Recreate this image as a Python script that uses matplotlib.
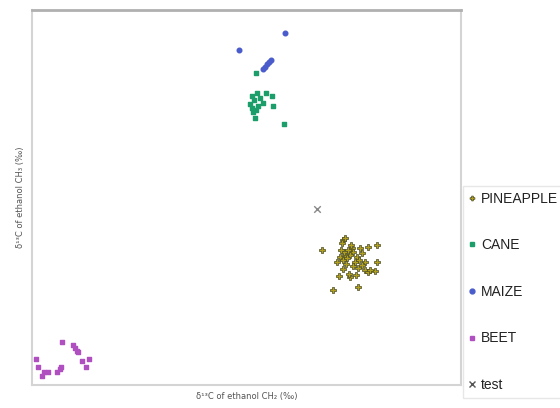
import matplotlib.pyplot as plt
from matplotlib.lines import Line2D

# positions (arbitrary delta units, no ticks shown)
pine_x = [322, 343, 342, 345, 352, 353, 368, 377, 340, 343, 350, 357, 362, 365, 377,
          343, 358, 365, 368, 375, 339, 350, 349, 356, 333, 358, 345, 348, 355, 362,
          347, 344, 351, 359, 346, 353, 341, 360, 370, 337]
pine_y = [250, 240, 243, 238, 248, 252, 247, 245, 257, 260, 255, 257, 253, 262, 262,
          269, 268, 270, 272, 271, 276, 277, 274, 275, 290, 287, 255, 250, 262, 265,
          258, 252, 245, 260, 264, 266, 250, 248, 270, 262]
cane_x = [256, 257, 252, 266, 272, 263, 273, 252, 253, 256, 258, 255, 284, 250, 254, 260]
cane_y = [73, 93, 96, 93, 96, 103, 106, 108, 112, 110, 106, 118, 124, 104, 100, 98]
maize_x = [239, 285, 265, 267, 269, 271, 263]
maize_y = [50, 33, 67, 64, 62, 60, 69]
beet_x = [62, 73, 75, 77, 78, 36, 38, 42, 48, 57, 60, 61, 82, 89, 86, 44]
beet_y = [342, 345, 348, 351, 352, 359, 367, 376, 372, 372, 369, 367, 361, 359, 367, 372]
test_x = [317]
test_y = [209]

plt.rcParams['font.family'] = ['Liberation Sans', 'DejaVu Sans']

fig = plt.figure(figsize=(5.6, 4.08), dpi=100)
ax = fig.add_axes([32 / 560, 23 / 408, 429 / 560, 375 / 408])

ax.scatter(pine_x, pine_y, marker='P', s=13, facecolor='#b0a01c', edgecolor='#4a4a26',
           linewidths=0.5, zorder=3)
ax.scatter(cane_x, cane_y, marker='s', s=11, color='#1b9e6a', zorder=3)
ax.scatter(maize_x, maize_y, marker='o', s=11, color='#4a5ccc', zorder=3)
ax.scatter(beet_x, beet_y, marker='s', s=9, color='#b04fc0', zorder=3)
ax.scatter(test_x, test_y, marker='x', s=22, color='#888888', linewidths=1, zorder=3)

ax.set_xlim(32, 461)
ax.set_ylim(385, 10)  # image style: values read top-down
ax.set_xticks([])
ax.set_yticks([])
for side in ['left', 'right', 'bottom']:
    ax.spines[side].set_color('#d4d4d4')
    ax.spines[side].set_linewidth(1.5)
ax.spines['top'].set_color('#b0b0b0')
ax.spines['top'].set_linewidth(2)

ax.set_xlabel('δ¹³C of ethanol CH₂ (‰)', fontsize=6, color='#555555', labelpad=5,
              family=['DejaVu Sans'])
ax.set_ylabel('δ¹³C of ethanol CH₃ (‰)', fontsize=6, color='#555555', labelpad=5,
              family=['DejaVu Sans'])

handles = [
    Line2D([], [], ls='', marker='P', ms=3.5, mfc='#b0a01c', mec='#4a4a26', mew=0.5),
    Line2D([], [], ls='', marker='s', ms=3.5, color='#1b9e6a'),
    Line2D([], [], ls='', marker='o', ms=3.5, color='#4a5ccc'),
    Line2D([], [], ls='', marker='s', ms=3, color='#b04fc0'),
    Line2D([], [], ls='', marker='x', ms=5, color='#555555', mew=1),
]
labels = ['PINEAPPLE', 'CANE', 'MAIZE', 'BEET', 'test']
leg = fig.legend(handles, labels, loc='upper left', bbox_to_anchor=(463 / 560, 1 - 186 / 408),
                 fontsize=10, labelspacing=2.35, handlelength=0.5, handletextpad=0.4,
                 borderpad=0.4, borderaxespad=0, frameon=True, fancybox=False)
leg.get_frame().set_edgecolor('#e2e2e2')
leg.get_frame().set_linewidth(1)
for t in leg.get_texts():
    t.set_color('#222222')

fig.savefig('out.png', dpi=100)
